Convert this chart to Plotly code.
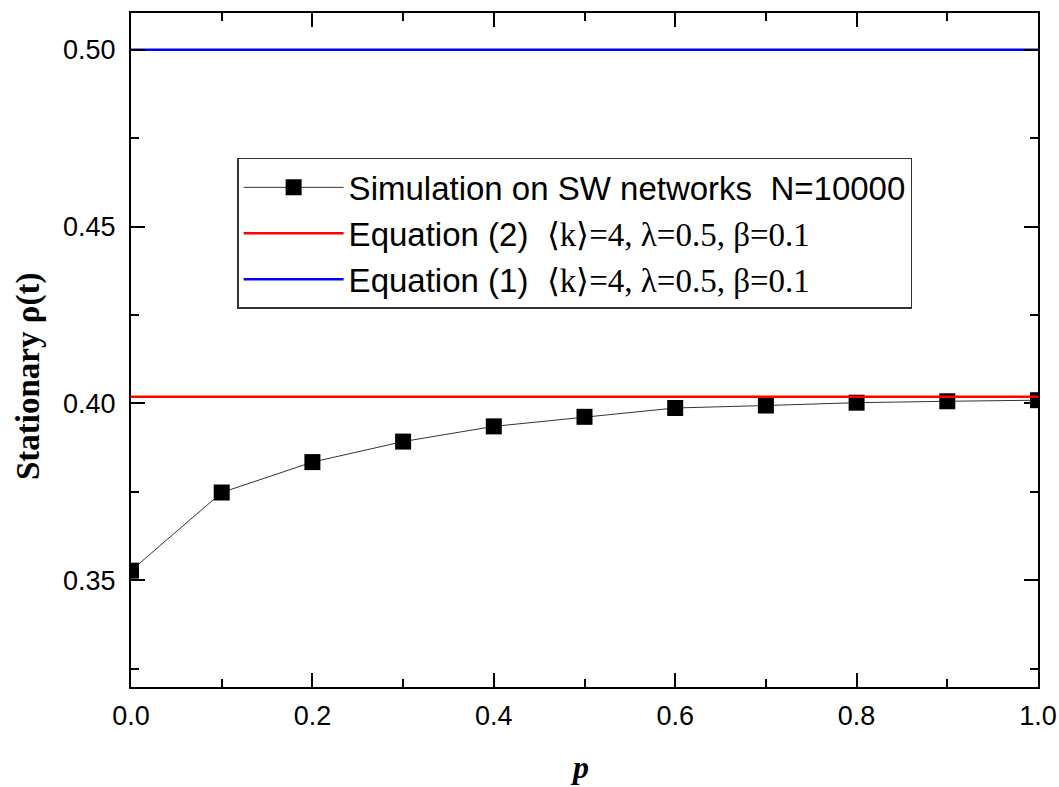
import plotly.graph_objects as go

p = [0.0, 0.1, 0.2, 0.3, 0.4, 0.5, 0.6, 0.7, 0.8, 0.9, 1.0]
rho_sim = [0.3527, 0.3748, 0.3834, 0.3892, 0.3935, 0.3962, 0.3987, 0.3994, 0.4002, 0.4006, 0.4009]
eq2_value = 0.4019
eq1_value = 0.50
x_range = [0.0, 1.0]
y_range = [0.3198, 0.5104]

serif = "Liberation Serif, Times New Roman, serif"
math = '<span style="font-family:Liberation Serif, Times New Roman, serif">⟨k⟩=4, λ=0.5, β=0.1</span>'

fig = go.Figure()
fig.add_trace(go.Scatter(
    x=p, y=rho_sim, mode="lines+markers",
    name="Simulation on SW networks  N=10000",
    line=dict(color="#333333", width=1),
    marker=dict(symbol="square", size=16, color="black"),
))
fig.add_trace(go.Scatter(
    x=x_range, y=[eq2_value, eq2_value], mode="lines",
    name="Equation (2)  " + math,
    line=dict(color="#ff0000", width=2.5),
))
fig.add_trace(go.Scatter(
    x=x_range, y=[eq1_value, eq1_value], mode="lines",
    name="Equation (1)  " + math,
    line=dict(color="#0000ff", width=2.5),
))

axis_common = dict(
    showline=True, linecolor="black", linewidth=2, mirror="ticks",
    ticks="inside", ticklen=14, tickwidth=2, tickcolor="black",
    showgrid=False, zeroline=False, automargin=False,
    tickfont=dict(family="Arial, Liberation Sans, sans-serif", size=27, color="black"),
)

fig.update_xaxes(
    range=x_range, dtick=0.2, tick0=0, tickformat=".1f", ticklabelstandoff=4,
    minor=dict(ticks="inside", ticklen=8, tickwidth=2, tickcolor="black", dtick=0.1, showgrid=False),
    **axis_common,
)
fig.update_yaxes(
    range=y_range, dtick=0.05, tick0=0.35, tickformat=".2f", ticklabelstandoff=8,
    minor=dict(ticks="inside", ticklen=8, tickwidth=2, tickcolor="black", dtick=0.025, showgrid=False),
    **axis_common,
)

fig.add_annotation(
    text="<b>Stationary ρ(t)</b>", textangle=-90, showarrow=False,
    xref="paper", yref="paper", x=-0.1136, y=0.4614, xanchor="center", yanchor="middle",
    font=dict(family=serif, size=33, color="black"),
)
fig.add_annotation(
    text="<b><i>p</i></b>", showarrow=False,
    xref="paper", yref="paper", x=0.495, y=-0.118, xanchor="center", yanchor="middle",
    font=dict(family=serif, size=32, color="black"),
)

fig.update_layout(
    width=1059, height=787,
    margin=dict(l=131, r=21, t=13, b=100),
    plot_bgcolor="white", paper_bgcolor="white",
    showlegend=True,
    legend=dict(
        x=0.117, y=0.785, xanchor="left", yanchor="top",
        bgcolor="white", bordercolor="#333333", borderwidth=1.5,
        font=dict(family="Arial, Liberation Sans, sans-serif", size=33, color="black"),
        itemwidth=100, tracegroupgap=0,
    ),
)

fig.write_html("out.html")
